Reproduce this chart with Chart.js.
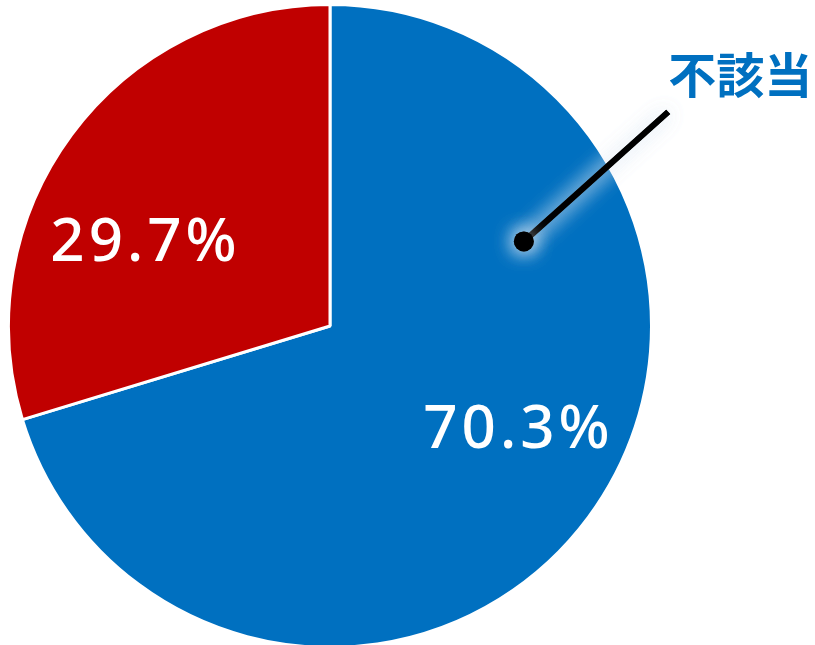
<!DOCTYPE html>
<html>
<head>
<meta charset="utf-8">
<script src="https://cdn.jsdelivr.net/npm/chart.js@4.4.0/dist/chart.umd.min.js"></script>
<style>
html,body{margin:0;padding:0;background:#fff;overflow:hidden;}
#wrap{position:absolute;left:0;top:0;width:815px;height:650px;}
</style>
</head>
<body>
<div id="wrap"><canvas id="c" width="815" height="650"></canvas></div>
<script>
const categories = ['不該当', '該当'];
const values = [70.3, 29.7];
const colors = ['#0070C0', '#C00000'];
const valueLabels = ['70.3%', '29.7%'];
const calloutLabels = ['不該当', ''];

const labelPlugin = {
  id: 'labels',
  afterDatasetsDraw(chart) {
    const ctx = chart.ctx;
    const meta = chart.getDatasetMeta(0);
    const arc0 = meta.data[0];
    const cx = arc0.x, cy = arc0.y, r = arc0.outerRadius;
    ctx.save();
    // value labels
    const offs = [[0.58, 0.325], [-0.58, -0.255]];
    ctx.fillStyle = '#ffffff';
    ctx.font = '500 60px "Noto Sans", sans-serif';
    ctx.textAlign = 'center';
    ctx.textBaseline = 'middle';
    try { ctx.letterSpacing = '4px'; } catch (e) {}
    meta.data.forEach((a, i) => {
      ctx.fillText(valueLabels[i], cx + offs[i][0] * r + 2, cy + offs[i][1] * r);
    });
    try { ctx.letterSpacing = '0px'; } catch (e) {}
    // callout for first slice
    const dx = cx + 0.603 * r, dy = cy - 0.263 * r;
    const ex = cx + 1.052 * r, ey = cy - 0.666 * r;
    ctx.strokeStyle = '#000';
    ctx.lineWidth = 6;
    ctx.fillStyle = '#000';
    ctx.shadowColor = 'rgba(225,235,245,0.9)';
    ctx.shadowBlur = 20;
    for (let k = 0; k < 2; k++) {
      ctx.beginPath();
      ctx.moveTo(dx, dy);
      ctx.lineTo(ex, ey);
      ctx.stroke();
      ctx.beginPath();
      ctx.arc(dx, dy, 10, 0, Math.PI * 2);
      ctx.fill();
    }
    ctx.shadowBlur = 0;
    ctx.shadowColor = 'transparent';
    ctx.fillStyle = '#0070C0';
    ctx.font = 'bold 48px "Noto Sans CJK JP", sans-serif';
    ctx.textAlign = 'center';
    ctx.textBaseline = 'middle';
    ctx.fillText(calloutLabels[0], cx + 1.276 * r, cy - 0.78 * r);
    ctx.restore();
  }
};

new Chart(document.getElementById('c'), {
  type: 'pie',
  data: {
    labels: categories,
    datasets: [{
      data: values,
      backgroundColor: colors,
      borderColor: '#ffffff',
      borderWidth: 3
    }]
  },
  options: {
    responsive: false,
    animation: false,
    layout: { padding: { left: 7, right: 162, top: 3, bottom: 1 } },
    plugins: { legend: { display: false }, tooltip: { enabled: false } }
  },
  plugins: [labelPlugin]
});
</script>
</body>
</html>
